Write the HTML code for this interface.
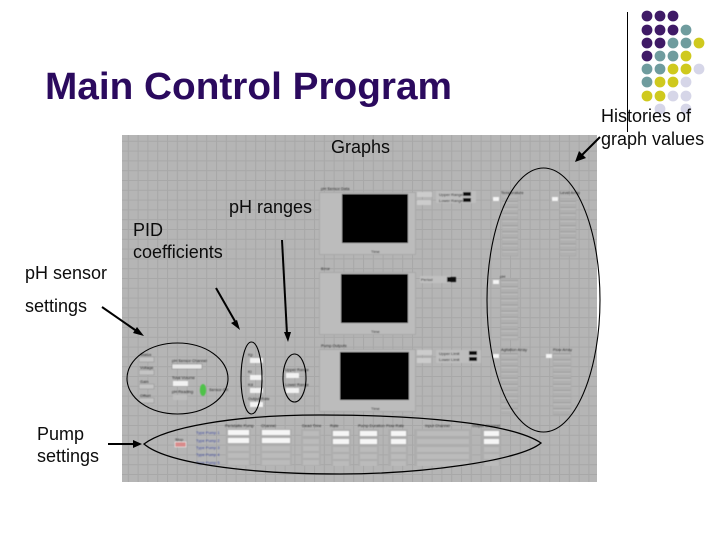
<!DOCTYPE html>
<html>
<head>
<meta charset="utf-8">
<style>
html,body{margin:0;padding:0;background:#fff;width:720px;height:540px;overflow:hidden}
svg{display:block}
text{font-family:"Liberation Sans",sans-serif}
.l{font-size:18px;fill:#0c0c0c}
.t{font-size:4px;fill:#1c1c1c}
</style>
</head>
<body>
<svg width="720" height="540" viewBox="0 0 720 540" xmlns="http://www.w3.org/2000/svg">
<defs>
<filter id="b" x="0" y="0" width="100%" height="100%"><feGaussianBlur stdDeviation="0.4"/></filter>
<pattern id="grid" width="9.8" height="9.8" patternUnits="userSpaceOnUse" x="118" y="131">
<rect width="9.8" height="9.8" fill="#b5b5b5"/>
<path d="M0 0.5H9.8M0.5 0V9.8" stroke="#a8a8a8" stroke-width="1" fill="none"/>
</pattern>
<pattern id="rows" width="16" height="6.1" patternUnits="userSpaceOnUse" y="196">
<rect width="16" height="6.1" fill="#b0b0b0"/>
<rect y="0" width="16" height="1.2" fill="#c0c0c0"/>
<rect y="4.8" width="16" height="1.3" fill="#a0a0a0"/>
</pattern>
</defs>
<rect width="720" height="540" fill="#fff"/>

<!-- Panel -->
<rect x="122" y="135" width="475" height="347" fill="url(#grid)"/>

<g filter="url(#b)">
<!-- Graph panels -->
<g fill="#bcbcbc" stroke="#a8a8a8" stroke-width="1">
<rect x="319.5" y="192.5" width="96" height="62"/>
<rect x="319.5" y="272.5" width="96" height="62"/>
<rect x="319.5" y="349.5" width="96" height="62"/>
</g>
<g fill="#000">
<rect x="342" y="194" width="66" height="49"/>
<rect x="341" y="274" width="67" height="49"/>
<rect x="340" y="352" width="69" height="48"/>
</g>
<text class="t" x="321" y="190">pH Sensor Data</text>
<text class="t" x="321" y="270">Error</text>
<text class="t" x="321" y="347">Pump Outputs</text>
<text class="t" x="371" y="253">Time</text>
<text class="t" x="371" y="333">Time</text>
<text class="t" x="371" y="410">Time</text>

<!-- Graph side controls -->
<g fill="#cccccc">
<rect x="417" y="192" width="15" height="5"/>
<rect x="417" y="200" width="14" height="5"/>
<rect x="436" y="191" width="40" height="12" fill="#bebebe"/>
<rect x="420" y="276" width="30" height="7" fill="#c0c0c0"/>
<rect x="417" y="350" width="15" height="5"/>
<rect x="417" y="358" width="14" height="5"/>
<rect x="436" y="350" width="45" height="13" fill="#bebebe"/>
</g>
<g fill="#111">
<rect x="463" y="192" width="8" height="4"/>
<rect x="463" y="198" width="8" height="4"/>
<rect x="447" y="277" width="9" height="5"/>
<rect x="469" y="351" width="8" height="4"/>
<rect x="469" y="357" width="8" height="4"/>
</g>
<text class="t" x="439" y="196">Upper Range</text>
<text class="t" x="439" y="202">Lower Range</text>
<text class="t" x="421" y="281">Period</text>
<text class="t" x="439" y="355">Upper Limit</text>
<text class="t" x="439" y="361">Lower Limit</text>

<!-- History arrays -->
<g fill="url(#rows)" stroke="#a8a8a8" stroke-width="0.5">
<rect x="502" y="196" width="16" height="60"/>
<rect x="560" y="196" width="16" height="60"/>
<rect x="501" y="279" width="17" height="61"/>
<rect x="501" y="353" width="17" height="61"/>
<rect x="553" y="353" width="18" height="62"/>
</g>
<g fill="#f4f4f4">
<rect x="493" y="197" width="6" height="4"/>
<rect x="552" y="197" width="6" height="4"/>
<rect x="493" y="280" width="6" height="4"/>
<rect x="493" y="354" width="6" height="4"/>
<rect x="546" y="354" width="6" height="4"/>
</g>
<text class="t" x="501" y="194">Temperature</text>
<text class="t" x="560" y="194">Level Array</text>
<text class="t" x="500" y="278">pH</text>
<text class="t" x="501" y="351">Agitation Array</text>
<text class="t" x="553" y="351">Flow Array</text>

<!-- pH sensor settings controls -->
<g fill="#c4c4c4" stroke="#8e8e8e" stroke-width="0.5">
<rect x="139" y="357" width="15" height="5"/>
<rect x="139" y="370" width="15" height="5"/>
<rect x="139" y="384" width="15" height="5"/>
<rect x="139" y="398" width="15" height="5"/>
</g>
<text class="t" x="140" y="356">Status</text>
<text class="t" x="140" y="369">Voltage</text>
<text class="t" x="140" y="383">Gain</text>
<text class="t" x="140" y="397">Offset</text>
<text class="t" x="172" y="362">pH Sensor Channel</text>
<rect x="172" y="364" width="30" height="5" fill="#e8e8e8" stroke="#777" stroke-width="0.5"/>
<text class="t" x="172" y="379">Total Volume</text>
<rect x="173" y="381" width="15" height="5" fill="#f2f2f2"/>
<text class="t" x="172" y="393">pH Reading</text>
<rect x="173" y="395" width="14" height="5" fill="#bdbdbd"/>
<ellipse cx="203" cy="390" rx="3.2" ry="6" fill="#4fc24a"/>
<text class="t" x="209" y="391">Sensor OK</text>

<!-- PID controls -->
<g fill="#f2f2f2">
<rect x="250" y="358" width="13" height="5"/>
<rect x="250" y="375" width="13" height="5"/>
<rect x="250" y="388" width="13" height="5"/>
<rect x="250" y="402" width="13" height="5"/>
</g>
<text class="t" x="248" y="356">Kp</text>
<text class="t" x="248" y="373">Ki</text>
<text class="t" x="248" y="386">Kd</text>
<text class="t" x="248" y="400">Output Rate</text>

<!-- pH range controls -->
<g fill="#f2f2f2">
<rect x="286" y="373" width="13" height="5"/>
<rect x="286" y="388" width="13" height="5"/>
</g>
<text class="t" x="285" y="371">Upper Range</text>
<text class="t" x="285" y="386">Lower Range</text>

<!-- Pump table -->
<text class="t" x="175" y="441">Stop</text>
<rect x="175" y="442" width="11" height="5" fill="#d88a8a" stroke="#fff" stroke-width="0.5"/>
<text class="t" style="fill:#3a46a0" x="196" y="434">Type Pump 1</text>
<text class="t" style="fill:#3a46a0" x="196" y="442">Type Pump 2</text>
<text class="t" style="fill:#3a46a0" x="196" y="449">Type Pump 3</text>
<text class="t" style="fill:#3a46a0" x="196" y="456">Type Pump 4</text>
<text class="t" style="fill:#3a46a0" x="196" y="464">Type Pump 5</text>
<g fill="#adadad">
<rect x="226" y="429" width="25" height="37"/>
<rect x="260" y="429" width="32" height="37"/>
<rect x="301" y="429" width="20" height="37"/>
<rect x="331" y="429" width="20" height="37"/>
<rect x="358" y="429" width="21" height="37"/>
<rect x="388" y="429" width="20" height="37"/>
<rect x="414" y="429" width="58" height="37"/>
<rect x="481" y="429" width="20" height="37"/>
</g>
<g fill="#f6f6f6">
<rect x="228" y="430" width="21" height="5"/><rect x="228" y="438" width="21" height="5"/>
<rect x="262" y="430" width="28" height="5"/><rect x="262" y="438" width="28" height="5"/>
<rect x="333" y="431" width="16" height="5"/><rect x="333" y="439" width="16" height="5"/>
<rect x="360" y="431" width="17" height="5"/><rect x="360" y="439" width="17" height="5"/>
<rect x="391" y="431" width="15" height="5"/><rect x="391" y="439" width="15" height="5"/>
<rect x="484" y="431" width="15" height="5"/><rect x="484" y="439" width="15" height="5"/>
</g>
<g fill="#bbbbbb">
<rect x="303" y="431" width="16" height="5"/><rect x="303" y="439" width="16" height="5"/>
<rect x="417" y="431" width="52" height="5"/><rect x="417" y="439" width="52" height="5"/>
<rect x="228" y="446" width="21" height="5"/><rect x="228" y="453" width="21" height="5"/><rect x="228" y="460" width="21" height="5"/>
<rect x="262" y="446" width="28" height="5"/><rect x="262" y="453" width="28" height="5"/><rect x="262" y="460" width="28" height="5"/>
<rect x="303" y="446" width="16" height="5"/><rect x="303" y="453" width="16" height="5"/><rect x="303" y="460" width="16" height="5"/>
<rect x="333" y="447" width="16" height="5"/><rect x="333" y="454" width="16" height="5"/><rect x="333" y="461" width="16" height="5"/>
<rect x="360" y="447" width="17" height="5"/><rect x="360" y="454" width="17" height="5"/><rect x="360" y="461" width="17" height="5"/>
<rect x="391" y="447" width="15" height="5"/><rect x="391" y="454" width="15" height="5"/><rect x="391" y="461" width="15" height="5"/>
<rect x="417" y="447" width="52" height="5"/><rect x="417" y="454" width="52" height="5"/><rect x="417" y="461" width="52" height="5"/>
<rect x="484" y="447" width="15" height="5"/><rect x="484" y="454" width="15" height="5"/><rect x="484" y="461" width="15" height="5"/>
</g>
<text class="t" x="225" y="427">Peristaltic Pump</text>
<text class="t" x="261" y="427">Channel</text>
<text class="t" x="302" y="427">Dead Time</text>
<text class="t" x="330" y="427">Rate</text>
<text class="t" x="358" y="427">Pump Duration</text>
<text class="t" x="386" y="427">Flow Rate</text>
<text class="t" x="425" y="427">Input Channel</text>
<text class="t" x="472" y="427">Output Channel</text>
</g>

<!-- Ellipses -->
<g fill="none" stroke="#000" stroke-width="1.1">
<ellipse cx="543.5" cy="300" rx="56.5" ry="132"/>
<ellipse cx="177.5" cy="378.5" rx="50.5" ry="35.5"/>
<ellipse cx="251.5" cy="378" rx="10.5" ry="36"/>
<ellipse cx="294.5" cy="378" rx="11.5" ry="24"/>
<path stroke-width="1.3" d="M144 444C165 428 230 415 320 415C410 415 510 422 541 443C520 461 420 474 340 474C240 474 165 462 144 444Z"/>
</g>

<!-- Arrows -->
<g stroke="#000" stroke-width="2" fill="#000">
<line x1="102" y1="307" x2="138" y2="332"/>
<polygon stroke="none" points="144,336 133,333 137,327"/>
<line x1="216" y1="288" x2="236" y2="323"/>
<polygon stroke="none" points="240,330 231,323 237,320"/>
<line x1="282" y1="240" x2="287" y2="334"/>
<polygon stroke="none" points="288,342 284,332 291,332"/>
<line x1="108" y1="444" x2="134" y2="444"/>
<polygon stroke="none" points="142,444 133,440 133,448"/>
<line x1="600" y1="137" x2="582" y2="155"/>
<polygon stroke="none" points="575,162 579,151 586,158"/>
</g>

<!-- Decoration -->
<line x1="627.5" y1="12" x2="627.5" y2="132" stroke="#000" stroke-width="1"/>
<g fill="#3f1a66">
<circle cx="647" cy="16" r="5.4"/><circle cx="660" cy="16" r="5.4"/><circle cx="673" cy="16" r="5.4"/>
<circle cx="647" cy="30" r="5.4"/><circle cx="660" cy="30" r="5.4"/><circle cx="673" cy="30" r="5.4"/>
<circle cx="647" cy="43" r="5.4"/><circle cx="660" cy="43" r="5.4"/>
<circle cx="647" cy="56" r="5.4"/>
</g>
<g fill="#6f9c9e">
<circle cx="686" cy="30" r="5.4"/>
<circle cx="673" cy="43" r="5.4"/><circle cx="686" cy="43" r="5.4"/>
<circle cx="660" cy="56" r="5.4"/><circle cx="673" cy="56" r="5.4"/>
<circle cx="647" cy="69" r="5.4"/><circle cx="660" cy="69" r="5.4"/>
<circle cx="647" cy="82" r="5.4"/>
</g>
<g fill="#cfc91e">
<circle cx="699" cy="43" r="5.4"/>
<circle cx="686" cy="56" r="5.4"/>
<circle cx="673" cy="69" r="5.4"/><circle cx="686" cy="69" r="5.4"/>
<circle cx="660" cy="82" r="5.4"/><circle cx="673" cy="82" r="5.4"/>
<circle cx="647" cy="96" r="5.4"/><circle cx="660" cy="96" r="5.4"/>
</g>
<g fill="#d6d6e8">
<circle cx="699" cy="69" r="5.4"/>
<circle cx="686" cy="82" r="5.4"/>
<circle cx="673" cy="96" r="5.4"/><circle cx="686" cy="96" r="5.4"/>
<circle cx="660" cy="109" r="5.4"/><circle cx="686" cy="109" r="5.4"/>
</g>

<!-- Labels -->
<text x="45" y="99" font-size="38.4" font-weight="bold" textLength="407" lengthAdjust="spacingAndGlyphs" fill="#2b0a5e">Main Control Program</text>
<text class="l" x="331" y="153">Graphs</text>
<text class="l" x="229" y="213">pH ranges</text>
<text class="l" x="133" y="236">PID</text>
<text class="l" x="133" y="258">coefficients</text>
<text class="l" x="25" y="279">pH sensor</text>
<text class="l" x="25" y="312">settings</text>
<text class="l" x="37" y="440">Pump</text>
<text class="l" x="37" y="462">settings</text>
<text class="l" x="601" y="122">Histories of</text>
<text class="l" x="601" y="145">graph values</text>
</svg>
</body>
</html>
